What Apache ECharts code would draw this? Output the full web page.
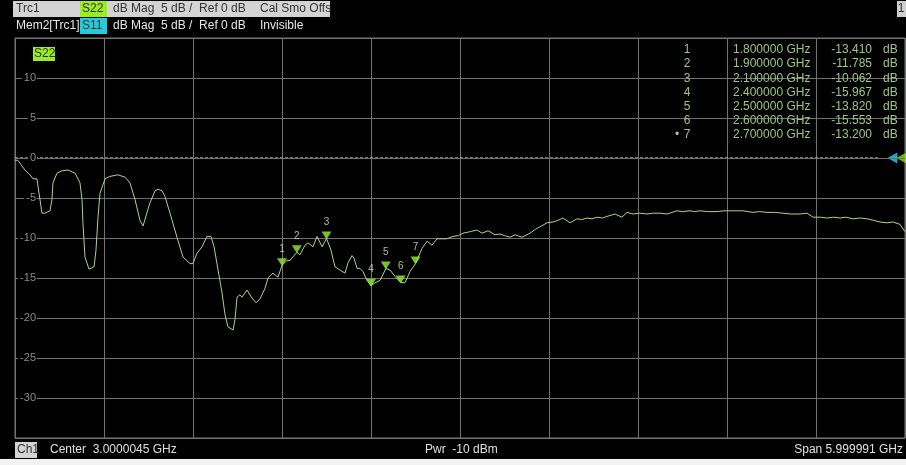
<!DOCTYPE html>
<html>
<head>
<meta charset="utf-8">
<script src="https://cdn.jsdelivr.net/npm/echarts@6/dist/echarts.min.js"></script>
<style>
html,body{margin:0;padding:0;background:#000;}
#c{width:906px;height:465px;}
</style>
</head>
<body>
<div id="c"></div>
<script>
// Frequency in GHz, S22 magnitude in dB
var freqGHz = [0,0.02,0.067,0.101,0.121,0.148,0.162,0.182,0.202,0.236,0.249,0.256,0.283,0.317,0.357,0.405,0.438,0.452,0.458,0.472,0.499,0.533,0.546,0.56,0.573,0.607,0.64,0.694,0.742,0.775,0.809,0.843,0.863,0.876,0.91,0.944,0.964,0.991,1.011,1.045,1.092,1.133,1.18,1.2,1.227,1.261,1.294,1.321,1.342,1.369,1.396,1.416,1.436,1.47,1.483,1.497,1.517,1.53,1.564,1.598,1.625,1.652,1.685,1.706,1.739,1.773,1.8,1.834,1.854,1.9,1.921,1.955,1.975,2.009,2.036,2.07,2.1,2.13,2.157,2.191,2.225,2.245,2.272,2.285,2.306,2.326,2.346,2.373,2.4,2.427,2.461,2.5,2.528,2.562,2.6,2.629,2.663,2.7,2.744,2.778,2.811,2.845,2.912,2.953,2.99,3.02,3.07,3.115,3.148,3.189,3.236,3.27,3.3,3.337,3.371,3.418,3.472,3.51,3.539,3.587,3.627,3.66,3.694,3.742,3.789,3.82,3.856,3.89,3.924,3.96,3.991,4.045,4.092,4.126,4.166,4.21,4.261,4.3,4.348,4.396,4.43,4.463,4.5,4.551,4.58,4.618,4.67,4.733,4.78,4.84,4.908,4.975,5.02,5.07,5.12,5.178,5.23,5.292,5.339,5.38,5.43,5.474,5.52,5.562,5.6,5.649,5.7,5.744,5.79,5.831,5.879,5.92,5.966,6.0];
var s22dB = [-0.25,-0.3,-1.5,-2.1,-2.6,-2.6,-4.4,-6.9,-6.9,-6.6,-5.2,-3.1,-1.9,-1.6,-1.5,-1.9,-3.1,-5.2,-8.1,-12.4,-13.9,-13.6,-11.5,-7.3,-4.4,-2.6,-2.3,-2.1,-2.4,-3.1,-5.2,-7.8,-8.5,-8.5,-5.6,-4.1,-3.9,-4.1,-4.8,-6.9,-9.9,-12.4,-13.2,-13.2,-11.9,-11.1,-9.8,-9.8,-11.1,-14.0,-16.9,-19.6,-21.1,-21.5,-20.2,-17.4,-17.1,-17.4,-16.5,-17.5,-18.1,-17.6,-16.3,-15.0,-14.4,-14.9,-13.41,-12.8,-12.8,-11.785,-12.1,-10.9,-10.6,-11.1,-9.8,-11.1,-10.062,-11.5,-13.6,-14.0,-14.4,-13.1,-12.2,-12.5,-13.8,-13.8,-14.2,-15.3,-15.967,-15.6,-15.3,-13.82,-14.0,-14.8,-15.553,-15.6,-14.2,-13.2,-11.3,-10.4,-10.9,-10.1,-10.1,-9.8,-9.7,-9.4,-9.2,-9.0,-9.4,-9.1,-9.6,-9.5,-9.7,-9.9,-9.6,-9.9,-9.4,-8.9,-8.6,-8.1,-8.0,-7.8,-7.5,-8.1,-7.6,-7.7,-7.5,-7.6,-7.4,-7.5,-7.3,-7.0,-7.4,-6.8,-7.0,-6.9,-7.0,-6.9,-6.9,-7.0,-6.8,-6.6,-6.7,-6.6,-6.7,-6.6,-6.7,-6.7,-6.6,-6.6,-6.6,-6.8,-6.7,-6.8,-6.8,-6.9,-7.0,-7.0,-6.9,-7.4,-7.4,-7.5,-7.4,-7.5,-7.4,-7.6,-7.5,-7.6,-7.8,-8.0,-8.1,-8.0,-8.3,-9.2];

// Markers
var markerNames = ['1','2','3','4','5','6','7'];
var markerFreq = [1.8,1.9,2.1,2.4,2.5,2.6,2.7];
var markerVal = [-13.410,-11.785,-10.062,-15.967,-13.820,-15.553,-13.200];
var markerFreqText = ['1.800000 GHz','1.900000 GHz','2.100000 GHz','2.400000 GHz','2.500000 GHz','2.600000 GHz','2.700000 GHz'];
var markerValText = ['-13.410','-11.785','-10.062','-15.967','-13.820','-15.553','-13.200'];

// Axes
var yTickLabels = ['10','5','0','-5','-10','-15','-20','-25','-30'];
var refLevel = 0;
var xMin = 0, xMax = 6, xStep = 0.6;
var yMin = -35, yMax = 15, yStep = 5;

var FONT = "'Liberation Sans', Arial, sans-serif";
var traceColor = '#a9d68a';
var tableColor = '#9cc683';

var traceData = freqGHz.map(function(f,i){return [f, s22dB[i]];});
var markerData = markerFreq.map(function(f,i){return {name: markerNames[i], value:[f, markerVal[i]]};});

var graphics = [];
function txt(x,y,s,color,opt){
  opt = opt || {};
  graphics.push({type:'text', x:x, y:y, silent:true, z:100,
    style:{text:s, fill:color, font:(opt.weight||'normal')+' '+(opt.size||12)+'px '+FONT, textAlign:opt.align||'left', textVerticalAlign:'middle'}});
}
function rect(x,y,w,h,color){
  graphics.push({type:'rect', x:x, y:y, silent:true, z:99, shape:{x:0,y:0,width:w,height:h}, style:{fill:color}});
}
// header row 1
rect(13,1,317,16,'#d4d4d4');
rect(80,1,27,16,'#99ee22');
txt(16,9,'Trc1','#333');
txt(82,9,'S22','#333');
txt(113,9,'dB Mag  5 dB /  Ref 0 dB','#333');
txt(260,9,'Cal Smo Offs','#333');
// header row 2
rect(80,18,27,16,'#22ccdd');
txt(16,26,'Mem2[Trc1]','#e6e6e6');
txt(82,26,'S11','#333');
txt(113,26,'dB Mag  5 dB /  Ref 0 dB','#e6e6e6');
txt(260,26,'Invisible','#e6e6e6');
// top right channel box
rect(897,1,9,16,'#cfcfcf');
txt(901,9,'1','#333',{align:'center'});
// S22 tag in plot
rect(33,47,22,14,'#99ee22');
txt(34,54,'S22','#333');
// marker table
for (var i=0;i<markerNames.length;i++){
  var y = 50 + i*14.1;
  txt(687,y,markerNames[i],tableColor,{align:'center'});
  txt(733,y,markerFreqText[i],tableColor);
  txt(872,y,markerValText[i],tableColor,{align:'right'});
  txt(883,y,'dB',tableColor);
}
txt(677,50+6*14.1,'\u2022',tableColor,{align:'center'});
// status bar
rect(15,442,22,16,'#d4d4d4');
txt(17,450,'Ch1','#333');
txt(50,450,'Center  3.0000045 GHz','#e0e0e0');
txt(425,450,'Pwr  -10 dBm','#e0e0e0');
txt(903,450,'Span 5.999991 GHz','#e0e0e0',{align:'right'});
rect(0,459,906,6,'#f2f2f2');

var chart = echarts.init(document.getElementById('c'), null, {renderer:'canvas'});
chart.setOption({
  backgroundColor:'#000',
  animation:false,
  grid:{left:15, right:1, top:38, bottom:27, show:true, borderColor:'#7a7a7a', borderWidth:1, backgroundColor:'#000'},
  xAxis:{type:'value', min:xMin, max:xMax, interval:xStep,
    axisLine:{show:false}, axisTick:{show:false}, axisLabel:{show:false},
    splitLine:{show:true, lineStyle:{color:'#727272', width:1}}},
  yAxis:{type:'value', min:yMin, max:yMax, interval:yStep,
    axisLine:{show:false}, axisTick:{show:false},
    axisLabel:{show:true, inside:true, margin:22, align:'right', color:'#8c8c8c', fontFamily:FONT, fontSize:11,
      backgroundColor:'#000', padding:[0,1,0,2],
      formatter:function(v){ var s=String(v); return yTickLabels.indexOf(s)>=0 ? s : ''; }},
    splitLine:{show:true, lineStyle:{color:'#727272', width:1}}, z:5},
  graphic:graphics,
  series:[
    {type:'line', data:[[xMin,refLevel],[5.83,refLevel]], symbol:'none', silent:true,
      lineStyle:{color:'#e8e8e8', width:1, type:[3,2]}, z:3},
    {type:'scatter', data:[[5.915,refLevel]], symbol:'triangle', symbolRotate:90, symbolSize:[11,10], clip:false,
      itemStyle:{color:'#22d4ee'}, silent:true, z:4},
    {type:'scatter', data:[[5.975,refLevel]], symbol:'triangle', symbolRotate:90, symbolSize:[11,10], clip:false,
      itemStyle:{color:'#8ee022'}, silent:true, z:4},
    {type:'line', data:traceData, symbol:'none', smooth:false,
      lineStyle:{color:traceColor, width:1}, z:6},
    {type:'scatter', data:markerData, symbol:'triangle', symbolRotate:180, symbolSize:[10,8], symbolOffset:[0,-3],
      itemStyle:{color:'#94f034'}, z:7,
      label:{show:true, position:'top', distance:4, formatter:'{b}', color:'#d2e6c0', fontFamily:FONT, fontSize:10}}
  ]
});
</script>
</body>
</html>
